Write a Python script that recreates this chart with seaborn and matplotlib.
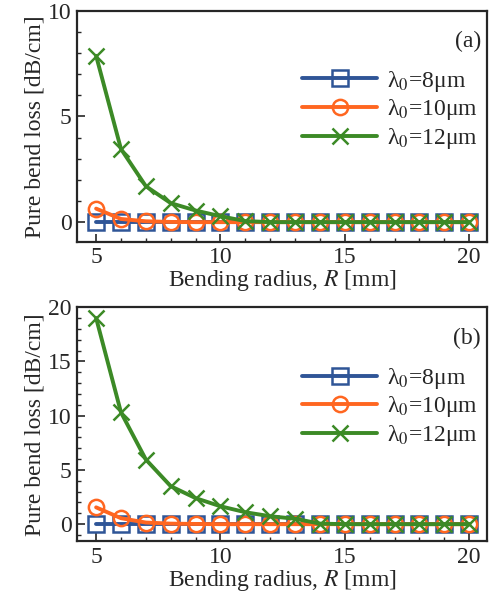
import seaborn as sns
import matplotlib
matplotlib.use('Agg')
import matplotlib.pyplot as plt
from matplotlib.ticker import MultipleLocator
import pandas as pd
import numpy as np

radius = np.arange(5, 21)

# panel (a)
loss_a_8 = [0] * 16
loss_a_10 = [0.64, 0.15, 0.04, 0.01] + [0] * 12
loss_a_12 = [7.87, 3.46, 1.7, 0.9, 0.55, 0.28, 0.05] + [0] * 9

# panel (b)
loss_b_8 = [0] * 16
loss_b_10 = [1.55, 0.55, 0.15, 0.05, 0.02] + [0] * 11
loss_b_12 = [19.0, 10.3, 5.96, 3.5, 2.4, 1.65, 1.1, 0.73, 0.5, 0.05] + [0] * 6

labels = ['λ$_0$=8μm', 'λ$_0$=10μm', 'λ$_0$=12μm']
colors = ['#2f5597', '#ff6620', '#3c8a26']
markers = ['s', 'o', 'x']

sns.set_style('ticks')
plt.rcParams['font.family'] = ['Liberation Serif', 'DejaVu Serif']
plt.rcParams['mathtext.fontset'] = 'stix'
fs = 17

fig = plt.figure(figsize=(4.95, 6), dpi=100)
ax1 = fig.add_axes([0.156, 0.597, 0.828, 0.385])
ax2 = fig.add_axes([0.156, 0.098, 0.828, 0.39])

panels = [
    (ax1, [loss_a_8, loss_a_10, loss_a_12], (-0.93, 10), '(a)'),
    (ax2, [loss_b_8, loss_b_10, loss_b_12], (-1.57, 20), '(b)'),
]

for ax, series, ylim, tag in panels:
    for vals, lab, c, m in zip(series, labels, colors, markers):
        df = pd.DataFrame({'R': radius, 'loss': vals})
        sns.lineplot(data=df, x='R', y='loss', ax=ax, color=c, marker=m,
                     markersize=11, markerfacecolor='none', markeredgecolor=c,
                     markeredgewidth=1.8, linewidth=2.8, label=lab)
    ax.set_xlim(4.24, 20.72)
    ax.set_ylim(*ylim)
    ax.xaxis.set_major_locator(MultipleLocator(5))
    ax.xaxis.set_minor_locator(MultipleLocator(1))
    ax.yaxis.set_major_locator(MultipleLocator(5))
    ax.yaxis.set_minor_locator(MultipleLocator(1))
    ax.tick_params(which='both', direction='in', labelsize=fs, top=False, right=False)
    ax.tick_params(which='major', length=6, width=1.2, pad=4)
    ax.tick_params(which='minor', length=3, width=1)
    for s in ax.spines.values():
        s.set_linewidth(1.6)
    ax.set_xlabel('Bending radius, $R$ [mm]', fontsize=fs, labelpad=0)
    ax.set_ylabel('Pure bend loss [dB/cm]', fontsize=fs, labelpad=2)
    ax.text(0.985, 0.866, tag, transform=ax.transAxes, ha='right', va='center', fontsize=fs)
    ax.legend(loc='upper right', bbox_to_anchor=(1.0, 0.79), frameon=False,
              handlelength=3.2, fontsize=fs, labelspacing=0.15, handletextpad=0.4,
              borderaxespad=0)

fig.savefig('out.png', dpi=100)
